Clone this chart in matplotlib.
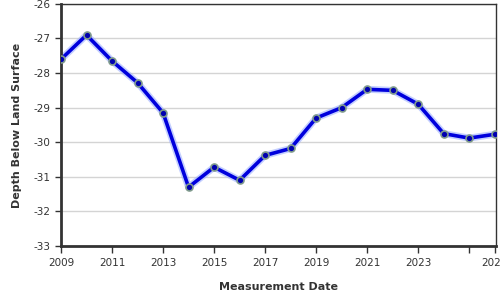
import matplotlib

matplotlib.use("Agg")
import matplotlib.pyplot as plt

# Water level readings, one per year
YEARS = [2009, 2010, 2011, 2012, 2013, 2014, 2015, 2016, 2017,
         2018, 2019, 2020, 2021, 2022, 2023, 2024, 2025, 2026]
DEPTH = [-27.6, -26.9, -27.65, -28.28, -29.15, -31.3, -30.72, -31.1, -30.38,
         -30.18, -29.3, -29.0, -28.47, -28.5, -28.9, -29.75, -29.88, -29.77]

X_TICKS = [2009, 2011, 2013, 2015, 2017, 2019, 2021, 2023, 2025, 2026]
X_TICK_LABELS = ["2009", "2011", "2013", "2015", "2017", "2019", "2021", "2023", "", "2026"]
Y_TICKS = [-26, -27, -28, -29, -30, -31, -32, -33]

plt.rcParams["axes.unicode_minus"] = False
plt.rcParams["font.family"] = "DejaVu Sans"

fig = plt.figure(figsize=(5, 3), dpi=100)
ax = fig.add_axes([0.122, 0.18, 0.87, 0.807])

ax.plot(YEARS, DEPTH, color="#9db0ff", lw=5, alpha=0.6, solid_capstyle="round", zorder=2)
ax.plot(YEARS, DEPTH, color="#0000dd", lw=2.6, zorder=3,
        marker="o", markersize=5, markerfacecolor="#0000b0",
        markeredgecolor="#7f9a8c", markeredgewidth=1.2)

ax.set_xlim(2009, 2026.05)
ax.set_ylim(-33, -26)
ax.set_xticks(X_TICKS)
ax.set_xticklabels(X_TICK_LABELS)
ax.set_yticks(Y_TICKS)
ax.set_yticklabels([str(v) for v in Y_TICKS])

ax.grid(True, axis="y", color="#d4d4d4", lw=1)
ax.set_axisbelow(True)

for side in ("left", "bottom"):
    ax.spines[side].set_linewidth(2)
    ax.spines[side].set_color("#333333")
for side in ("top", "right"):
    ax.spines[side].set_linewidth(1)
    ax.spines[side].set_color("#333333")

ax.tick_params(axis="both", labelsize=7.5, colors="#333333", length=5, width=1,
               direction="out")
ax.tick_params(axis="y", length=4)

ax.set_xlabel("Measurement Date", fontsize=8, fontweight="bold", color="#333333", labelpad=10)
ax.set_ylabel("Depth Below Land Surface", fontsize=8, fontweight="bold", color="#333333",
              labelpad=8)

fig.savefig("out.png", dpi=100)
